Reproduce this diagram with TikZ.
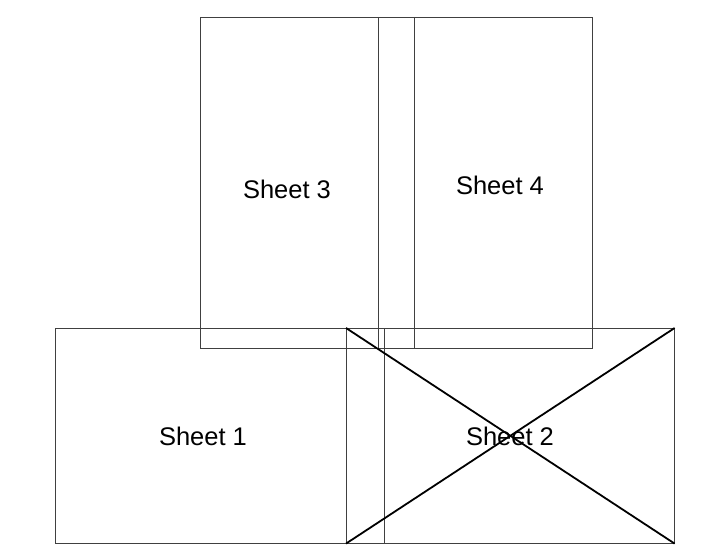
\documentclass[tikz,border=0pt]{standalone}
\usepackage{fontspec}
\setmainfont{Liberation Sans}
\usetikzlibrary{positioning, calc}
\tikzset{
  sheetbox/.style={
    draw=black!75, line width=0.6pt, inner sep=0pt, anchor=north west
  },
  gutterline/.style={draw=black!75, line width=0.6pt},
  crossline/.style={draw=black, line width=1.8pt},
  sheetlabel/.style={font=\fontsize{25.5}{28}\selectfont, text=black},
}

\begin{document}
\begin{tikzpicture}[x=1pt, y=-1pt]
  \useasboundingbox (0,0) rectangle (726,556);

  % Upper sheets
  \node[sheetbox, minimum width=392pt, minimum height=331pt] (top) at (200,17) {};
  \coordinate (gA) at (378,17);
  \coordinate (gB) at (414,17);
  \draw[gutterline] (gA) -- (gA |- top.south);
  \draw[gutterline] (gB) -- (gB |- top.south);

  % Lower sheets
  \node[sheetbox, minimum width=619pt, minimum height=215pt] (bot) at (55,328) {};
  \coordinate (gC) at (346,328);
  \coordinate (gD) at (384,328);
  \draw[gutterline] (gC) -- (gC |- bot.south);
  \draw[gutterline] (gD) -- (gD |- bot.south);

  % Crossed-out sheet
  \draw[crossline] (gC) -- (bot.south east);
  \draw[crossline] (gC |- bot.south) -- (bot.north east);

  % Labels
  \node[sheetlabel] (s3) at (287,189) {Sheet 3};
  \node[sheetlabel] (s4) at (500,185) {Sheet 4};
  \node[sheetlabel] (s1) at (203,436) {Sheet 1};
  \node[sheetlabel] (s2) at (510,436) {Sheet 2};
\end{tikzpicture}
\end{document}
